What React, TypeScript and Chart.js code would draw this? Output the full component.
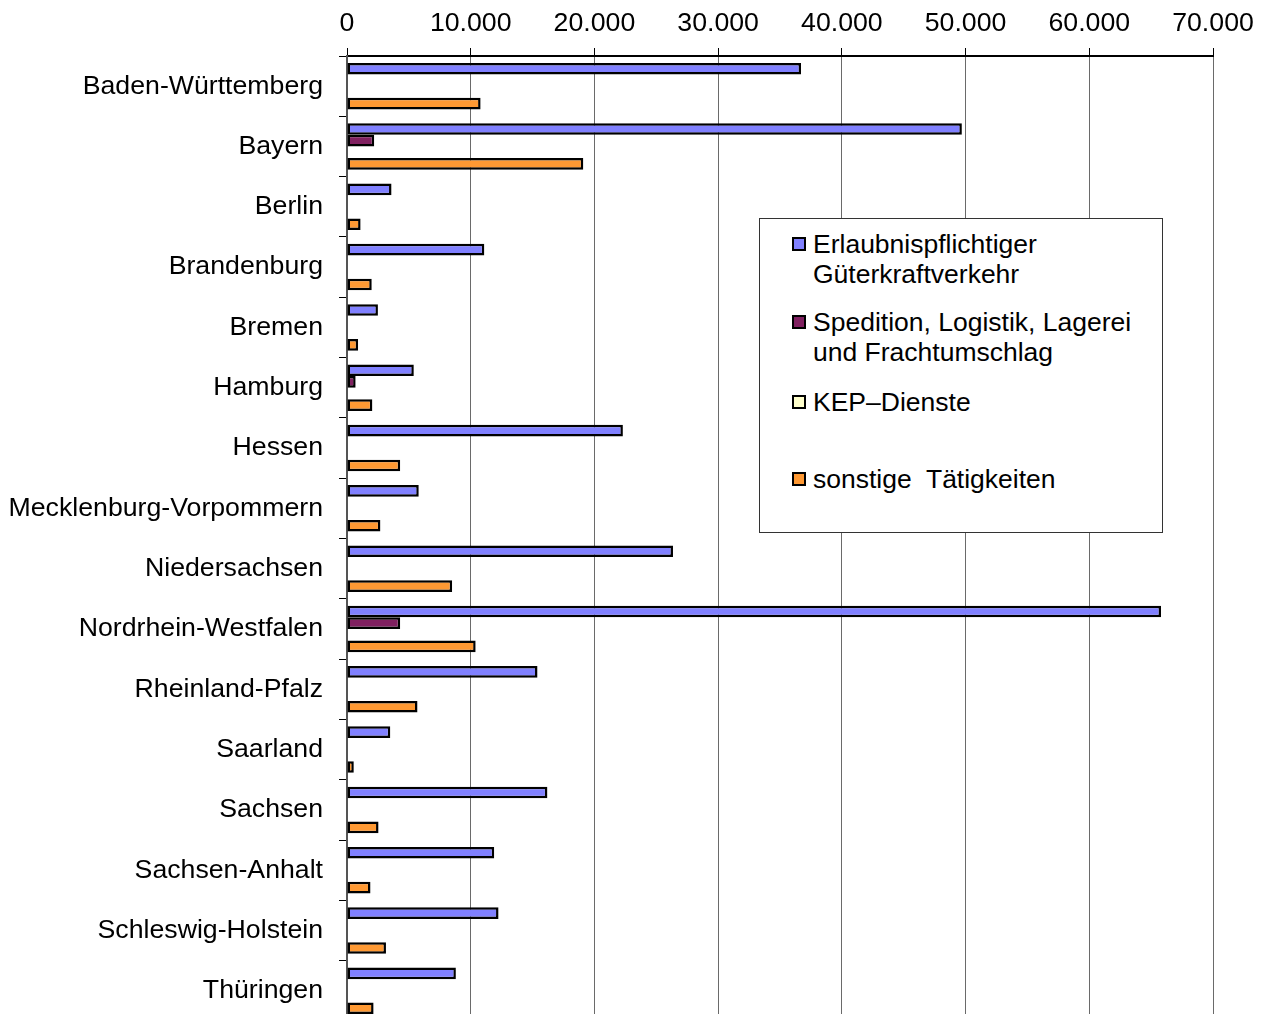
import React, { useEffect, useRef } from "react";
import { Chart, registerables } from "chart.js";

Chart.register(...registerables);

const categories = [
  "Baden-Württemberg",
  "Bayern",
  "Berlin",
  "Brandenburg",
  "Bremen",
  "Hamburg",
  "Hessen",
  "Mecklenburg-Vorpommern",
  "Niedersachsen",
  "Nordrhein-Westfalen",
  "Rheinland-Pfalz",
  "Saarland",
  "Sachsen",
  "Sachsen-Anhalt",
  "Schleswig-Holstein",
  "Thüringen",
];

const seriesNames = [
  "Erlaubnispflichtiger\nGüterkraftverkehr",
  "Spedition, Logistik, Lagerei\nund Frachtumschlag",
  "KEP–Dienste",
  "sonstige  Tätigkeiten",
];

const gueterkraftverkehr = [36700, 49700, 3600, 11100, 2500, 5400, 22300, 5800, 26350, 65800, 15400, 3500, 16200, 11900, 12250, 8800];
const spedition = [null, 2200, null, null, null, 700, null, null, null, 4300, null, null, null, null, null, null];
const kepDienste = [null, null, null, null, null, null, null, null, null, null, null, null, null, null, null, null];
const sonstige = [10800, 19100, 1100, 2000, 900, 2050, 4300, 2700, 8500, 10400, 5700, 550, 2550, 1900, 3150, 2150];

const xMin = 0;
const xMax = 70000;
const xStep = 10000;

const seriesColors = ["#8080FF", "#802060", "#FFFFCC", "#FF9933"];

const FONT = "'Liberation Sans', Arial, sans-serif";

function formatDe(v: number): string {
  const s = String(Math.round(v));
  return s.replace(/\B(?=(\d{3})+(?!\d))/g, ".");
}

export default function App() {
  const canvasRef = useRef<HTMLCanvasElement | null>(null);

  useEffect(() => {
    const canvas = canvasRef.current;
    if (!canvas) return;
    const seriesData = [gueterkraftverkehr, spedition, kepDienste, sonstige];
    const chart = new Chart(canvas, {
      type: "bar",
      data: {
        labels: categories,
        datasets: seriesData.map((d, i) => ({
          label: seriesNames[i],
          data: d as any,
          backgroundColor: seriesColors[i],
          borderColor: "#000000",
          borderWidth: 2.5,
          borderSkipped: false,
          categoryPercentage: 0.77,
          barPercentage: 1.0,
        })),
      },
      options: {
        indexAxis: "y",
        responsive: false,
        animation: false,
        layout: { padding: { left: 0, right: 51, top: 0, bottom: 0 } },
        plugins: {
          legend: { display: false },
          tooltip: { enabled: false },
        },
        scales: {
          x: {
            position: "top",
            min: xMin,
            max: xMax,
            ticks: {
              stepSize: xStep,
              color: "#000",
              padding: 8,
              font: { family: FONT, size: 26.7 },
              callback: (v: any) => formatDe(Number(v)),
            },
            grid: {
              color: "#6a6a6a",
              lineWidth: 1,
              tickLength: 8,
              tickColor: "#000",
            },
            border: { color: "#000", width: 2 },
            afterFit: (scale: any) => {
              scale.height = 56;
            },
          },
          y: {
            offset: true,
            ticks: {
              color: "#000",
              padding: 16,
              font: { family: FONT, size: 26.7 },
            },
            grid: {
              offset: true,
              drawOnChartArea: false,
              color: "#000",
              tickLength: 8,
            },
            border: { color: "#555", width: 2 },
            afterFit: (scale: any) => {
              scale.width = 347;
              scale.paddingTop = 0;
              scale.paddingBottom = 0;
            },
          },
        },
      },
    });
    return () => chart.destroy();
  }, []);

  const itemTops = [10, 88, 168, 245];

  return (
    <div style={{ position: "absolute", left: 0, top: 0, width: 1264, height: 1014, background: "#fff", overflow: "hidden" }}>
      <canvas ref={canvasRef} width={1264} height={1021} style={{ display: "block", width: 1264, height: 1021 }} />
      <div
        style={{
          position: "absolute",
          left: 759,
          top: 218,
          width: 402,
          height: 313,
          border: "1px solid #333",
          background: "#fff",
          fontFamily: FONT,
          fontSize: 26.5,
          color: "#000",
        }}
      >
        {seriesNames.map((name, i) => (
          <div key={i} style={{ position: "absolute", left: 0, top: itemTops[i], width: 400 }}>
            <div
              style={{
                position: "absolute",
                left: 32,
                top: 8,
                width: 10,
                height: 10,
                border: "2px solid #000",
                background: seriesColors[i],
              }}
            />
            <div style={{ position: "absolute", left: 53, top: 0, lineHeight: "30px", whiteSpace: "pre" }}>{name}</div>
          </div>
        ))}
      </div>
    </div>
  );
}
